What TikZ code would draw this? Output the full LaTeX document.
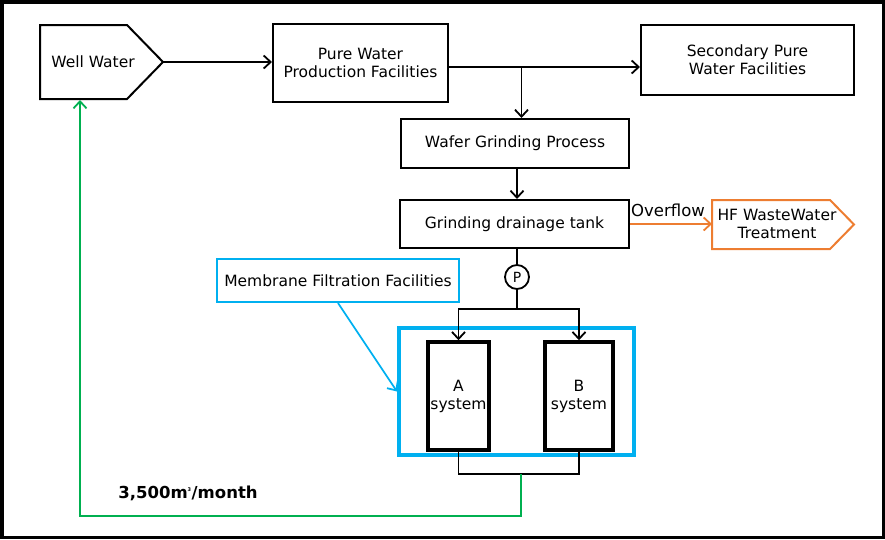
\documentclass[tikz,border=0pt]{standalone}
\usepackage{fontspec}
\setmainfont{DejaVu Sans}
\usetikzlibrary{arrows.meta}
\definecolor{mfcyan}{RGB}{0,176,240}
\definecolor{ovorange}{RGB}{237,125,49}
\definecolor{retgreen}{RGB}{0,176,80}

\begin{document}
\begin{tikzpicture}[x=1pt,y=-1pt,font=\fontsize{15.5}{18}\selectfont,
    box/.style={draw,line width=2,align=center,inner sep=0},
    sysbox/.style={draw,line width=3.5,align=center,inner sep=0,minimum height=108},
    flow/.style={line width=1.8,-{Straight Barb[length=7,width=13]}}]
    \useasboundingbox (0,0) rectangle (885,539);
    \draw[line width=3.5] (1.75,1.75) rectangle (883.25,537.25);
    % well water and the pure water line
    \node[align=center] (well) at (93,62) {Well Water};
    \draw[line width=2] (40,25) -- (127,25) -- (163,62) coordinate (wellTip) -- (127,99) -- (40,99) -- cycle;
    \coordinate (wellBottom) at (80,100);
    \node[box,minimum width=175,minimum height=78] (pure) at (360.5,63) {Pure Water\\Production Facilities};
    \node[box,minimum width=213,minimum height=70] (second) at (747.5,60) {Secondary Pure\\Water Facilities};
    \node[box,minimum width=228,minimum height=49] (wafer) at (515,143.5) {Wafer Grinding Process};
    \node[box,minimum width=229,minimum height=48] (grind) at (514.5,224) {Grinding drainage tank};
    \draw[flow] (wellTip) -- (pure.west |- wellTip);
    \coordinate (pureOut) at (448,67);
    \coordinate (branch) at (521.5,67);
    \draw[flow] (pureOut) -- (second.west |- pureOut);
    \draw[flow] (branch) -- (wafer.north -| branch);
    \draw[flow] ([xshift=2]wafer.south) -- ([xshift=2]wafer.south |- grind.north);
    % overflow to HF treatment
    \node[align=center,inner sep=0] (hf) at (777,224) {HF WasteWater\\Treatment};
    \draw[ovorange,line width=2] (712,200) -- (830,200) -- (854,224.5) -- (830,249) -- (712,249) -- cycle;
    \coordinate (hfIn) at (712,224);
    \draw[flow,ovorange] (grind.east) -- (hfIn);
    \node[font=\fontsize{16.5}{18}\selectfont] (over) at (668,210) {Overflow};
    % pump and membrane systems
    \node[draw,circle,line width=1.8,minimum size=24,inner sep=0,font=\fontsize{14}{14}\selectfont] (pump) at (517,277) {P};
    \node[draw=mfcyan,line width=4,minimum width=235,minimum height=127] (mff) at (516.5,391.5) {};
    \node[sysbox,minimum width=61] (sysA) at (458.5,396) {A\\system};
    \node[sysbox,minimum width=68] (sysB) at (579,396) {B\\system};
    \coordinate (split) at (517,309);
    \draw[line width=1.8] (grind.south -| pump) -- (pump.north);
    \draw[line width=1.8] (pump.south) -- (split);
    \draw[flow] (split) -| (sysA.north);
    \draw[flow] (split) -| (sysB.north);
    \node[box,draw=mfcyan,minimum width=242,minimum height=43] (label) at (338,280.5) {Membrane Filtration Facilities};
    \draw[flow,mfcyan] (label.south) -- (mff.west);
    % return line to well water
    \coordinate (join) at (521,474);
    \draw[line width=1.8] (sysA.south) |- (join) -| (sysB.south);
    \draw[flow,retgreen] (join) -- (521,516) -| (wellBottom);
    \node[font=\bfseries\fontsize{16.5}{18}\selectfont] (amount) at (188,493) {3,500m\textsuperscript{\tiny 3}/month};
\end{tikzpicture}
\end{document}
